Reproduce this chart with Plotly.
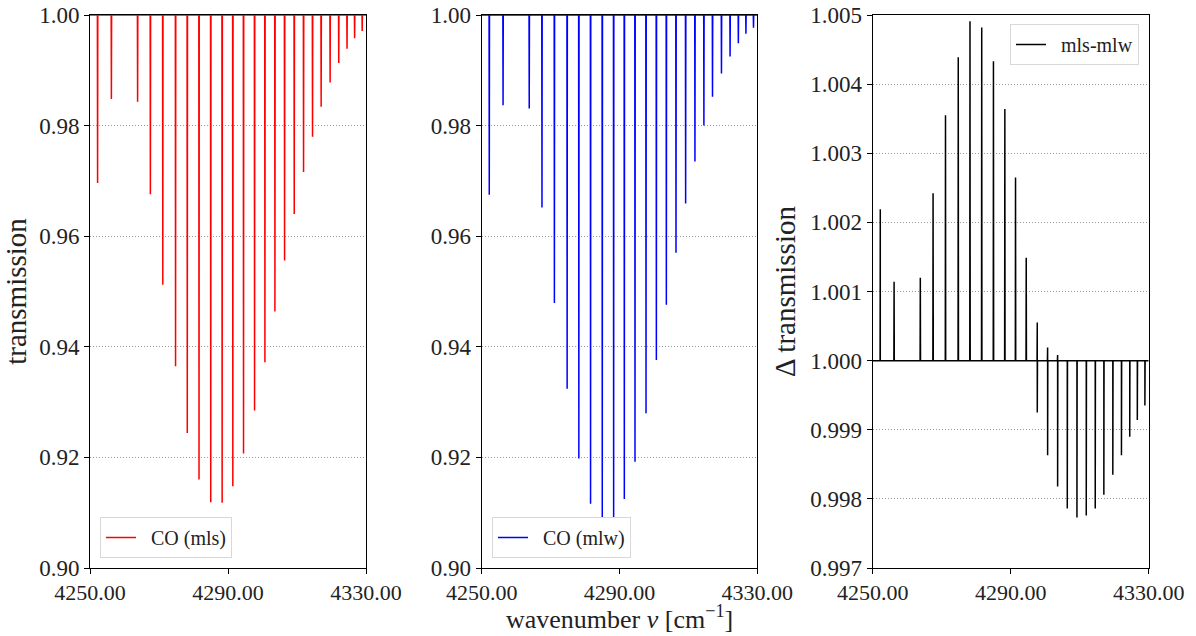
import plotly.graph_objects as go

# ---------------- data ----------------
# line centres [cm^-1]
line_nu = [4252.2, 4256.2, 4263.8, 4267.5, 4271.1, 4274.8, 4278.2, 4281.6,
           4285.0, 4288.3, 4291.4, 4294.5, 4297.7, 4300.7, 4303.6, 4306.4,
           4309.2, 4311.9, 4314.5, 4317.0, 4319.6, 4322.1, 4324.5, 4326.7,
           4328.9]
# minimum transmission of each line, CO (mls)
mls_min = [0.9696, 0.9848, 0.9843, 0.9676, 0.9512, 0.9365, 0.9244, 0.9160,
           0.9119, 0.9118, 0.9148, 0.9207, 0.9285, 0.9372, 0.9464, 0.9556,
           0.9640, 0.9716, 0.9780, 0.9834, 0.9878, 0.9913, 0.9939, 0.9958,
           0.9971]
# minimum transmission of each line, CO (mlw)
mlw_min = [0.9675, 0.9837, 0.9831, 0.9652, 0.9479, 0.9324, 0.9198, 0.9116,
           0.9080, 0.9085, 0.9125, 0.9192, 0.9280, 0.9376, 0.9476, 0.9570,
           0.9659, 0.9735, 0.9800, 0.9852, 0.9894, 0.9925, 0.9949, 0.9966,
           0.9977]
# difference panel: upper and lower extremes at each line
diff_max = [1.00219, 1.00114, 1.00120, 1.00242, 1.00355, 1.00439, 1.00491,
            1.00482, 1.00433, 1.00364, 1.00265, 1.00149, 1.00055, 1.00019,
            1.00008, 1.0, 1.0, 1.0, 1.0, 1.0, 1.0, 1.0, 1.0, 1.0, 1.0]
diff_min = [1.0, 1.0, 1.0, 1.0, 1.0, 1.0, 1.0, 1.0, 1.0, 1.0, 1.0, 1.0,
            0.99925, 0.99863, 0.99818, 0.99786, 0.99773, 0.99776, 0.99786,
            0.99806, 0.99835, 0.99863, 0.99890, 0.99914, 0.99935]

baseline = 1.0
nu_range = [4250, 4330]
x_ticks = [4250, 4290, 4330]
y_ticks_T = [0.90, 0.92, 0.94, 0.96, 0.98, 1.00]
y_ticks_D = [0.997, 0.998, 0.999, 1.000, 1.001, 1.002, 1.003, 1.004, 1.005]

# ---------------- build line paths ----------------
HW = 0.06  # half width of the drawn line profile (style)


def dip_path(centres, extremes):
    xs, ys = [nu_range[0]], [baseline]
    for c, e in zip(centres, extremes):
        xs += [c - HW, c, c + HW]
        ys += [baseline, e, baseline]
    xs.append(nu_range[1])
    ys.append(baseline)
    return xs, ys


def diff_path(centres, hi, lo):
    xs, ys = [nu_range[0]], [baseline]
    for c, h, l in zip(centres, hi, lo):
        xs += [c - HW, c, c, c + HW]
        ys += [baseline, h, l, baseline]
    xs.append(nu_range[1])
    ys.append(baseline)
    return xs, ys


x1, y1 = dip_path(line_nu, mls_min)
x2, y2 = dip_path(line_nu, mlw_min)
x3, y3 = diff_path(line_nu, diff_max, diff_min)

FONT = "Liberation Serif"
TXT = "#222"
W, H = 1196, 636
GAP = "\u00a0\u00a0"

fig = go.Figure()
fig.add_trace(go.Scatter(x=x1, y=y1, mode="lines", name=GAP + "CO (mls)",
                         line=dict(color="red", width=1.5), showlegend=True,
                         xaxis="x", yaxis="y", legend="legend"))
fig.add_trace(go.Scatter(x=x2, y=y2, mode="lines", name=GAP + "CO (mlw)",
                         line=dict(color="blue", width=1.5), showlegend=True,
                         xaxis="x2", yaxis="y2", legend="legend2"))
fig.add_trace(go.Scatter(x=x3, y=y3, mode="lines", name=GAP + "mls-mlw",
                         line=dict(color="black", width=1.5), showlegend=True,
                         xaxis="x3", yaxis="y3", legend="legend3"))

y_dom = [1 - 568 / H, 1 - 15 / H]
x_doms = [[90 / W, 366 / W], [481.7 / W, 757.3 / W], [872.7 / W, 1148.7 / W]]

common_x = dict(range=nu_range, tickvals=x_ticks, tickformat=".2f", automargin=False,
                showgrid=False, zeroline=False, showline=True, mirror=True,
                linecolor="black", linewidth=1, ticks="outside", ticklen=5,
                tickcolor="black", tickfont=dict(family=FONT, size=22, color=TXT))
common_y = dict(showgrid=True, gridcolor="#999", griddash="1px,2px", gridwidth=1,
                zeroline=False, showline=True, mirror=True, linecolor="black",
                automargin=False,
                linewidth=1, ticks="outside", ticklen=5, tickcolor="black",
                tickfont=dict(family=FONT, size=23, color=TXT), domain=y_dom)

legend_common = dict(bgcolor="white", bordercolor="#d8d8d8", borderwidth=1,
                     font=dict(family=FONT, size=20, color=TXT))

fig.update_layout(
    width=W, height=H,
    margin=dict(l=0, r=0, t=0, b=0, autoexpand=False),
    paper_bgcolor="white", plot_bgcolor="white",
    showlegend=True,
    font=dict(family=FONT, color=TXT),
    xaxis=dict(domain=x_doms[0], anchor="y", **common_x),
    xaxis2=dict(domain=x_doms[1], anchor="y2", **common_x),
    xaxis3=dict(domain=x_doms[2], anchor="y3", **common_x),
    yaxis=dict(anchor="x", range=[0.90, 1.00], tickvals=y_ticks_T, tickformat=".2f",
               title=dict(text="transmission", font=dict(family=FONT, size=29, color=TXT),
                          standoff=6),
               **common_y),
    yaxis2=dict(anchor="x2", range=[0.90, 1.00], tickvals=y_ticks_T, tickformat=".2f",
                **common_y),
    yaxis3=dict(anchor="x3", range=[0.997, 1.005], tickvals=y_ticks_D, tickformat=".3f",
                title=dict(text="Δ transmission", font=dict(family=FONT, size=29, color=TXT),
                           standoff=6),
                **common_y),
    legend=dict(x=100 / W, y=1 - 558 / H, xanchor="left", yanchor="bottom",
                **legend_common),
    legend2=dict(x=492 / W, y=1 - 558 / H, xanchor="left", yanchor="bottom",
                 **legend_common),
    legend3=dict(x=1139 / W, y=1 - 24 / H, xanchor="right", yanchor="top",
                 **legend_common),
    annotations=[dict(text="wavenumber <i>ν</i> [cm<sup>−1</sup>]",
                      xref="paper", yref="paper", x=(x_doms[1][0] + x_doms[1][1]) / 2,
                      y=0, xanchor="center", yanchor="bottom", yshift=0,
                      showarrow=False, font=dict(family=FONT, size=26, color=TXT))],
)

fig.write_html("out.html")
